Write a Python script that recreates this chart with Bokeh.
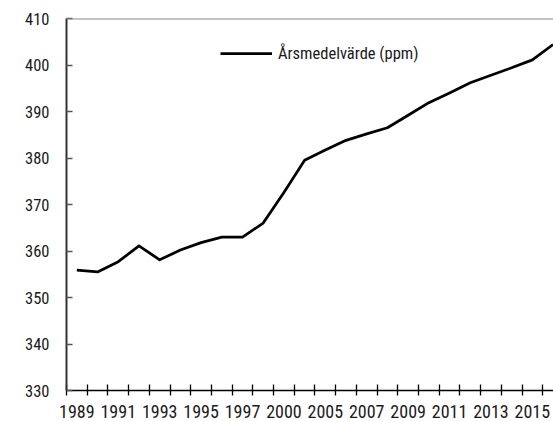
from bokeh.plotting import figure
from bokeh.models import (Range1d, FixedTicker, Span, Legend, LegendItem, ColumnDataSource)
from bokeh.embed import file_html
from bokeh.resources import INLINE

# ---- data ----
years = ["1989", "1990", "1991", "1992", "1993", "1994", "1995", "1996", "1997", "1998",
         "2000", "2004", "2005", "2006", "2007", "2008", "2009", "2010", "2011", "2012",
         "2013", "2014", "2015", "2016"]
co2 = [355.9, 355.5, 357.7, 361.1, 358.1, 360.2, 361.8, 363.0, 363.0, 366.0,
       372.6, 379.5, 381.7, 383.8, 385.2, 386.5, 389.2, 391.9, 394.0, 396.2,
       397.8, 399.4, 401.1, 404.4]
y_ticks = [330, 340, 350, 360, 370, 380, 390, 400, 410]
series_label = "Årsmedelvärde (ppm)"

FONT = "'Roboto Condensed', 'DejaVu Sans Condensed', 'Liberation Sans Narrow', 'Arial Narrow', sans-serif"

idx = list(range(len(years)))
src = ColumnDataSource(data=dict(x=idx, y=co2, year=years))

p = figure(width=553, height=421, output_backend="svg", toolbar_location=None,
           x_range=Range1d(-0.5, 23.02), y_range=Range1d(y_ticks[0], y_ticks[-1]),
           min_border_left=66, min_border_top=18, min_border_right=0, min_border_bottom=31)
p.outline_line_color = None
p.xgrid.visible = False
p.ygrid.visible = False
p.background_fill_color = "white"
p.border_fill_color = "white"

r = p.line("x", "y", source=src, line_color="black", line_width=2.75, line_join="round")

# top frame line
p.add_layout(Span(location=y_ticks[-1], dimension="width", line_color="#8a8a8a", line_width=2))

# x axis
xa = p.xaxis[0]
xa.ticker = FixedTicker(ticks=[i for i in idx if i % 2 == 0],
                        minor_ticks=[i - 0.5 for i in range(len(years) + 1)])
xa.major_label_overrides = {i: years[i] for i in idx}
xa.major_tick_in = 0
xa.major_tick_out = 0
xa.minor_tick_in = 6
xa.minor_tick_out = 5
xa.minor_tick_line_color = "black"
xa.minor_tick_line_width = 1.3
xa.axis_line_color = "black"
xa.axis_line_width = 1.3
xa.major_label_standoff = 9
xa.major_label_text_font = FONT
xa.major_label_text_font_size = "18px"
xa.major_label_text_color = "#1a1a1a"

# y axis
ya = p.yaxis[0]
ya.ticker = FixedTicker(ticks=y_ticks, minor_ticks=[])
ya.major_tick_in = 6
ya.major_tick_out = 0
ya.major_tick_line_color = "#555555"
ya.major_tick_line_width = 1.3
ya.minor_tick_line_color = None
ya.axis_line_color = "#333333"
ya.axis_line_width = 2
ya.major_label_standoff = 17
ya.major_label_text_font = FONT
ya.major_label_text_font_size = "16.5px"
ya.major_label_text_color = "#1a1a1a"

legend = Legend(items=[LegendItem(label=series_label, renderers=[r])],
                location=(154, 327), glyph_width=52, glyph_height=20,
                label_standoff=6, padding=0, margin=0, spacing=0,
                border_line_color=None, background_fill_alpha=0,
                label_text_font=FONT, label_text_font_size="16.5px",
                label_text_color="#1a1a1a")
p.add_layout(legend)

open("out.html", "w").write(file_html(p, INLINE))
